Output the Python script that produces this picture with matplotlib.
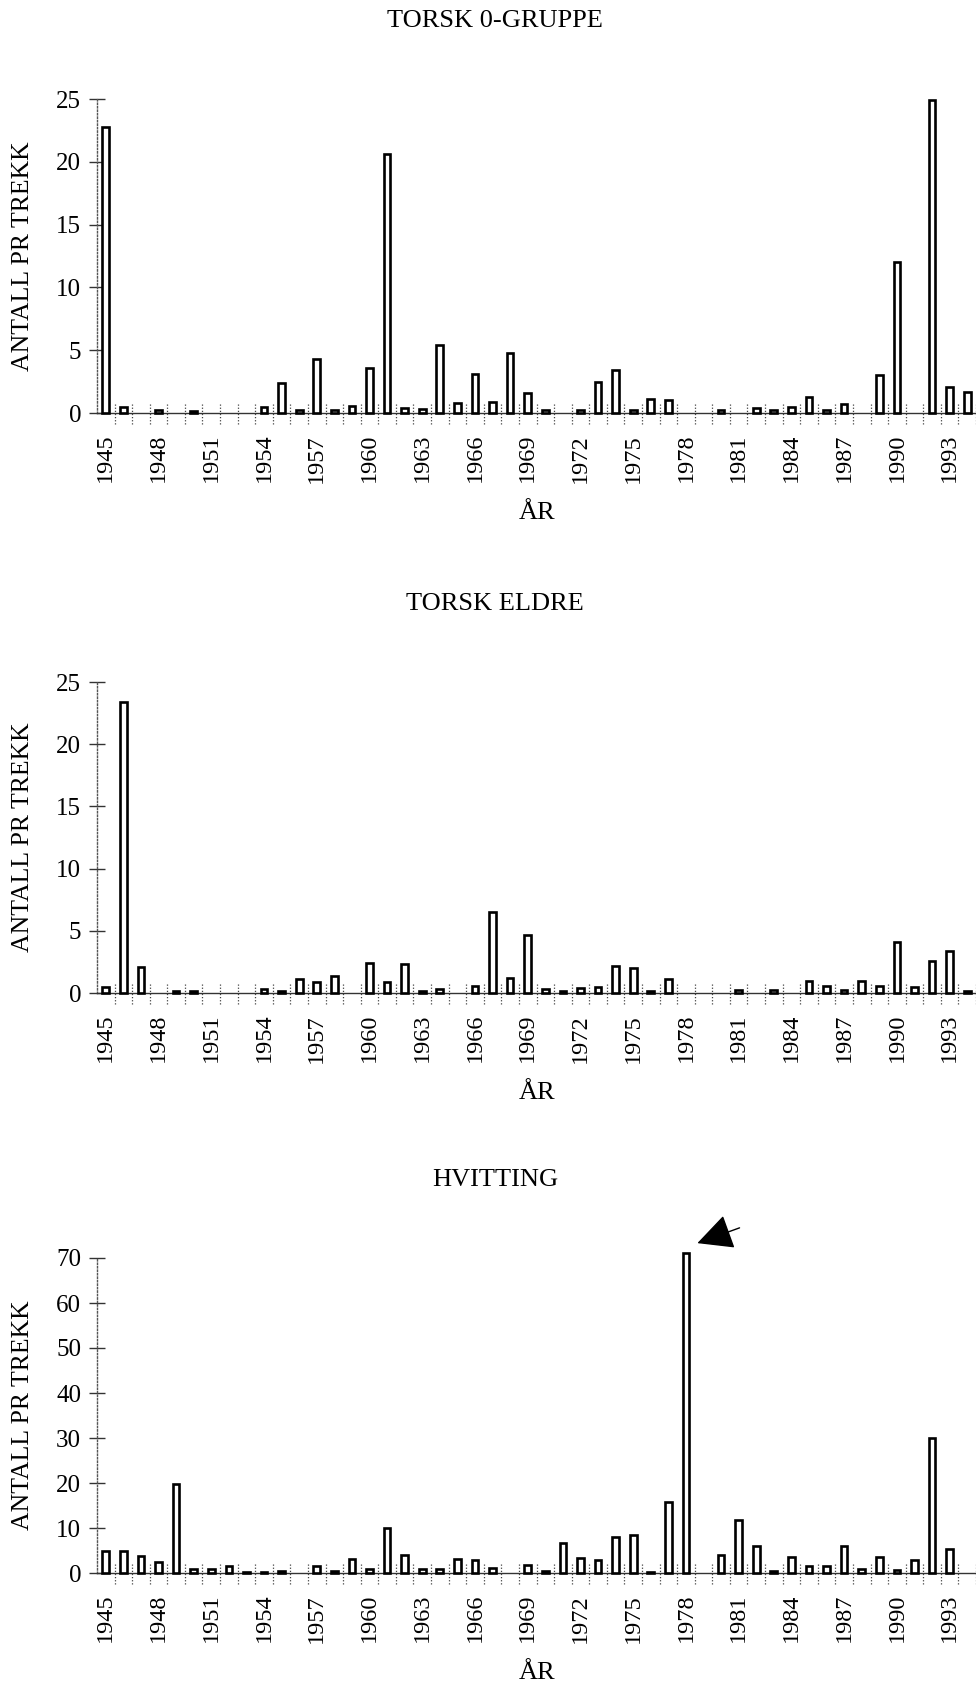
import numpy as np
import matplotlib
matplotlib.use("Agg")
import matplotlib.pyplot as plt

years = list(range(1945, 1995))
N = None  # no catch registered that year

# TORSK 0-GRUPPE
torsk0 = [22.8, 0.5, N, 0.25, N, 0.15, N, N, N, 0.5,
          2.4, 0.2, 4.3, 0.25, 0.55, 3.6, 20.6, 0.4, 0.3, 5.4,
          0.8, 3.1, 0.9, 4.8, 1.6, 0.2, N, 0.2, 2.5, 3.4,
          0.2, 1.1, 1.0, N, N, 0.2, N, 0.4, 0.2, 0.45,
          1.3, 0.2, 0.7, N, 3.0, 12.0, N, 24.9, 2.1, 1.7]
# TORSK ELDRE
torsk_eldre = [0.5, 23.4, 2.1, N, 0.15, 0.15, N, N, N, 0.3,
               0.2, 1.15, 0.85, 1.35, N, 2.45, 0.85, 2.3, 0.2, 0.3,
               N, 0.55, 6.5, 1.2, 4.7, 0.3, 0.2, 0.4, 0.5, 2.2,
               2.0, 0.2, 1.1, N, N, N, 0.25, N, 0.25, N,
               0.95, 0.55, 0.25, 0.95, 0.6, 4.1, 0.45, 2.6, 3.4, 0.2]
# HVITTING
hvitting = [4.8, 4.8, 3.7, 2.5, 19.8, 1.0, 1.0, 1.5, 0.3, 0.3,
            0.4, N, 1.6, 0.4, 3.2, 0.8, 9.9, 4.1, 1.0, 0.8,
            3.2, 2.9, 1.1, N, 1.8, 0.4, 6.6, 3.4, 2.8, 7.9,
            8.5, 0.2, 15.7, 71.1, N, 3.9, 11.8, 6.0, 0.4, 3.6,
            1.5, 1.5, 5.9, 0.8, 3.6, 0.7, 2.8, 29.9, 5.4, N]

titles = ["TORSK 0-GRUPPE", "TORSK ELDRE", "HVITTING"]
series = [torsk0, torsk_eldre, hvitting]
yticks = [[0, 5, 10, 15, 20, 25], [0, 5, 10, 15, 20, 25],
          [0, 10, 20, 30, 40, 50, 60, 70]]
ylims = [25, 25, 70]

plt.rcParams['font.family'] = ['Liberation Serif', 'DejaVu Serif']

W, H = 976, 1685
fig = plt.figure(figsize=(W / 100, H / 100), dpi=100)

# axes boxes in pixels: (top, bottom)
boxes = [(99, 413), (682, 993), (1258, 1573)]
left, right = 97, 976

x = np.arange(len(years))
for i in range(3):
    top, bot = boxes[i]
    ax = fig.add_axes([left / W, 1 - bot / H, (right - left) / W, (bot - top) / H])
    vals = np.array([np.nan if v is None else v for v in series[i]], dtype=float)
    ax.bar(x, vals, width=0.38, color="white", edgecolor="black", linewidth=1.9,
           zorder=3, clip_on=False)
    ax.set_xlim(-0.5, len(years) - 0.5)
    ax.set_ylim(0, ylims[i])
    for s in ["top", "right"]:
        ax.spines[s].set_visible(False)
    ax.spines["left"].set_linestyle((0, (1, 1.5)))
    ax.spines["left"].set_color("#555555")
    ax.spines["left"].set_linewidth(1)
    ax.spines["bottom"].set_color("#333333")
    ax.spines["bottom"].set_linewidth(1)

    ax.set_yticks(yticks[i])
    ax.set_yticklabels([str(v) for v in yticks[i]], fontsize=18)
    ax.tick_params(axis="y", direction="inout", length=11, width=1, pad=6, color="#333333")

    ax.set_xticks(x[::3])
    ax.set_xticklabels([str(y) for y in years[::3]], rotation=90, fontsize=17.5)
    ax.tick_params(axis="x", length=0, pad=15)

    # dotted separators between year slots
    ax.vlines(x + 0.5, -0.035, 0.03, transform=ax.get_xaxis_transform(),
              colors="#444444", linestyles=(0, (1, 1.5)), linewidth=0.9, clip_on=False)

    fig.text(495 / W, 1 - (top - 78) / H, titles[i], ha="center", va="center", fontsize=19)
    fig.text(23 / W, 1 - (top + bot) / 2 / H, "ANTALL PR TREKK", rotation=90,
             ha="center", va="center", fontsize=18.5)
    fig.text(537 / W, 1 - (bot + 100) / H, "ÅR", ha="center", va="center", fontsize=19)

    if i == 2:
        k = years.index(1978)
        peak = hvitting[k]
        ax.annotate("", xy=(k + 0.65, peak + 2.2), xytext=(k + 3.05, peak + 5.6),
                    arrowprops=dict(arrowstyle="-|>,head_length=1.6,head_width=0.8",
                                    mutation_scale=14, color="black", lw=1,
                                    shrinkA=0, shrinkB=0),
                    annotation_clip=False)

fig.savefig("out.png", dpi=100)
